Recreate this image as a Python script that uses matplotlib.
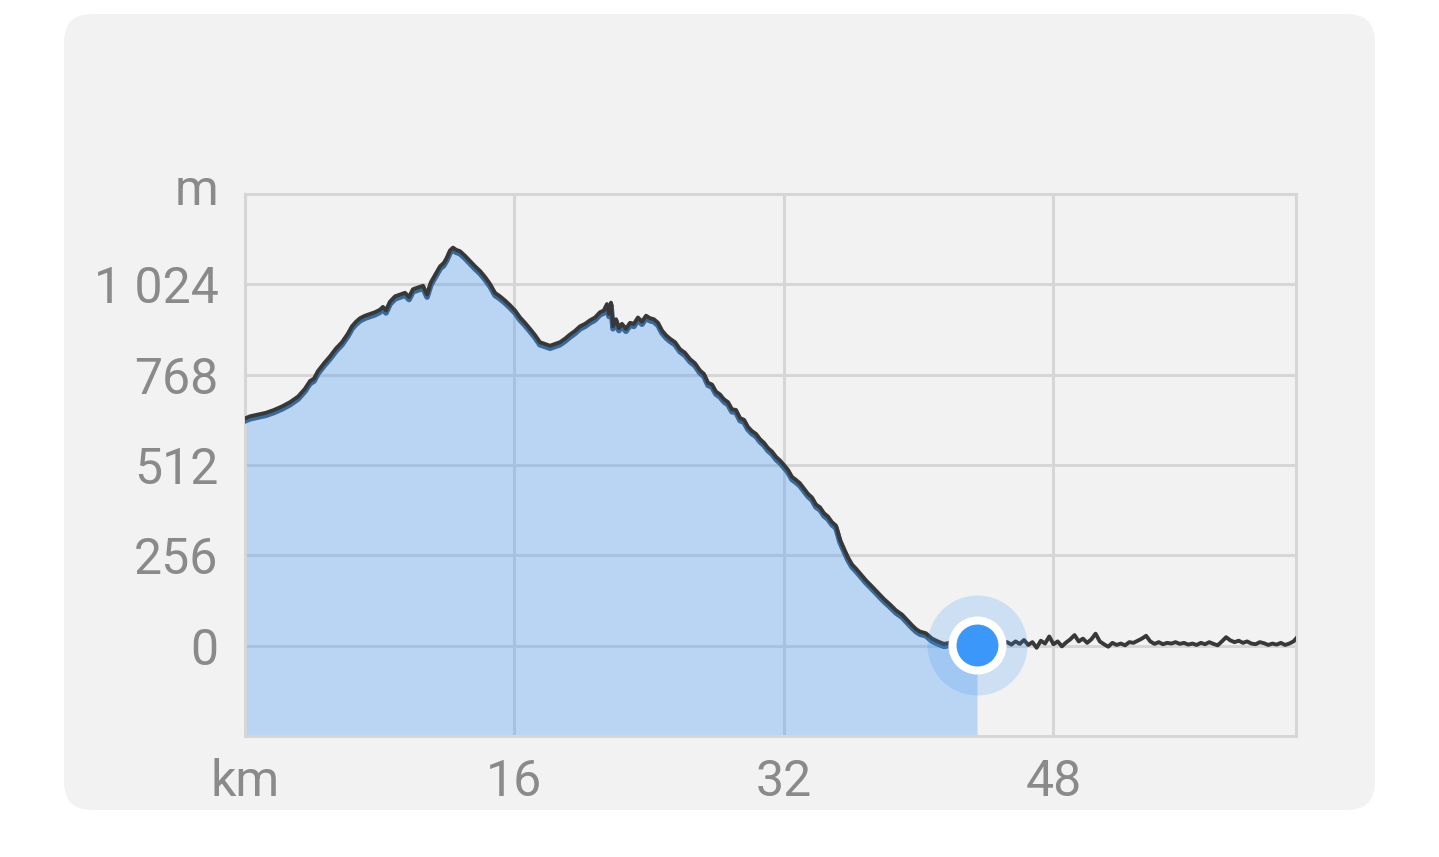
import numpy as np
import matplotlib
matplotlib.use("Agg")
import matplotlib.pyplot as plt
from matplotlib.patches import FancyBboxPatch
import matplotlib.transforms as mtransforms

plt.rcParams['font.family'] = ['Roboto', 'DejaVu Sans']

# ---- data -------------------------------------------------------------
dist_climb = [0, 0.30, 0.77, 1.25, 1.72, 2.20, 2.67, 3.15, 3.56, 3.86, 4.10, 4.33, 4.69,
              5.05, 5.40, 5.76, 6.12, 6.35, 6.59, 6.83, 7.12, 7.42, 7.72, 8.01, 8.19,
              8.37, 8.61, 8.91, 9.20, 9.50, 9.74, 9.97, 10.27, 10.57, 10.81, 11.04,
              11.34, 11.58, 11.81, 11.99, 12.17, 12.35, 12.53, 12.76, 13.06, 13.36,
              13.66, 13.95, 14.25, 14.55, 14.84, 15.14, 15.44, 15.73, 16.03, 16.33,
              16.62, 16.92, 17.22, 17.51, 17.81, 18.11, 18.40, 18.70, 19.00, 19.30,
              19.59, 19.89, 20.19, 20.48, 20.78, 21.08, 21.31, 21.49, 21.61, 21.73,
              21.85, 22.03, 22.20, 22.38, 22.62, 22.86, 23.09, 23.33, 23.57, 23.81,
              24.05, 24.28, 24.52, 24.76, 24.99, 25.23, 25.53, 25.83, 26.12, 26.42,
              26.72, 27.01, 27.25, 27.49, 27.73, 27.96, 28.20, 28.44, 28.68, 28.91,
              29.15, 29.39, 29.63, 29.86, 30.10, 30.34, 30.58, 30.81, 31.05, 31.29,
              31.53, 31.76, 32.00, 32.24, 32.48, 32.71, 32.95, 33.19, 33.43, 33.66,
              33.90, 34.14, 34.38, 34.61, 34.85, 35.09, 35.33, 35.56, 35.80, 36.04,
              36.28, 36.51, 36.87, 37.22, 37.58, 37.94, 38.29, 38.65, 39.01, 39.36,
              39.60, 39.84, 40.07, 40.43, 40.79, 41.14, 41.50, 41.86, 42.21, 42.57,
              42.92, 43.28]
elev_climb = [644, 650, 655, 660, 668, 678, 690, 706, 728, 750, 757, 778, 800,
              820, 842, 860, 885, 905, 918, 928, 935, 940, 945, 952, 960,
              950, 975, 990, 995, 1000, 988, 1010, 1015, 1020, 995, 1030,
              1055, 1075, 1085, 1100, 1120, 1128, 1122, 1118, 1105, 1090,
              1075, 1062, 1045, 1025, 1000, 990, 978, 965, 950, 930,
              915, 898, 880, 860, 855, 850, 855, 860, 870, 882,
              892, 905, 912, 922, 930, 945, 950, 968, 940, 972,
              905, 925, 900, 912, 898, 915, 912, 930, 918, 935,
              928, 925, 915, 893, 880, 870, 860, 840, 830, 812,
              800, 780, 770, 745, 740, 720, 712, 698, 690, 670,
              668, 645, 640, 620, 608, 600, 585, 575, 560, 550,
              535, 525, 512, 498, 478, 470, 460, 445, 430, 420,
              400, 392, 375, 366, 350, 340, 300, 275, 250, 230,
              218, 205, 185, 168, 150, 132, 117, 100, 88, 70,
              58, 47, 40, 35, 20, 12, 5, 8, 2, 4,
              5, 3]

dist_flat = [43.50, 43.75, 44.00, 44.25, 44.50, 44.75, 45.00, 45.25, 45.50, 45.75,
             46.00, 46.25, 46.50, 46.75, 47.00, 47.25, 47.50, 47.75, 48.00, 48.25,
             48.50, 48.75, 49.00, 49.25, 49.50, 49.75, 50.00, 50.25, 50.50, 50.75,
             51.00, 51.25, 51.50, 51.75, 52.00, 52.25, 52.50, 52.75, 53.00, 53.25,
             53.50, 53.75, 54.00, 54.25, 54.50, 54.75, 55.00, 55.25, 55.50, 55.75,
             56.00, 56.25, 56.50, 56.75, 57.00, 57.25, 57.50, 57.75, 58.00, 58.25,
             58.50, 58.75, 59.00, 59.25, 59.50, 59.75, 60.00, 60.25, 60.50, 60.75,
             61.00, 61.25, 61.50, 61.75, 62.00, 62.25, 62.40]
elev_flat = [3, 4, 6, 3, 5, 8, 4, 10, 3, 12,
             5, 16, 2, 10, -6, 14, 6, 26, 4, 12,
             -2, 9, 18, 30, 12, 20, 8, 18, 34, 12,
             4, -3, 8, 2, 6, 1, 10, 8, 14, 20,
             28, 12, 5, 10, 4, 8, 6, 10, 5, 8,
             3, 6, 2, 8, 4, 10, 5, 1, 12, 24,
             15, 10, 14, 8, 12, 6, 4, 10, 7, 2,
             6, 3, 8, 2, 6, 12, 20]

marker_km = 43.46
x_ticks = [0, 16, 32, 48]
x_labels = ["km", "16", "32", "48"]
y_ticks = [0, 256, 512, 768, 1024, 1280]
y_labels = ["0", "256", "512", "768", "1 024", "m"]
x_max = 62.4
y_min, y_max = -256, 1280

dist = np.array(dist_climb + dist_flat)
elev = np.array(elev_climb + elev_flat)

# ---- figure -----------------------------------------------------------
W, H = 1439, 857
fig = plt.figure(figsize=(W / 100, H / 100), dpi=100, facecolor='white')

bg = fig.add_axes([0, 0, 1, 1], zorder=0)
bg.set_xlim(0, W)
bg.set_ylim(H, 0)
bg.axis('off')
bg.add_patch(FancyBboxPatch((64 + 28, 14 + 28), 1311 - 56, 796 - 56,
                            boxstyle="round,pad=28",
                            facecolor='#f2f2f2', edgecolor='none'))

ax = fig.add_axes([245 / W, 1 - 736 / H, (1296 - 245) / W, (736 - 194) / H], zorder=1)
ax.patch.set_alpha(0)
ax.set_xlim(0, x_max)
ax.set_ylim(y_min, y_max)

grid_c = '#d6d6d6'
for s in ax.spines.values():
    s.set_color(grid_c)
    s.set_linewidth(2.2)
ax.set_xticks(x_ticks)
ax.set_xticklabels(x_labels)
ax.set_yticks(y_ticks)
ax.set_yticklabels(y_labels)
ax.grid(True, color=grid_c, linewidth=2.2, zorder=0)
ax.set_axisbelow(True)
ax.tick_params(length=0, labelsize=36, labelcolor='#8a8a8a')
ax.tick_params(axis='y', pad=19)
ax.tick_params(axis='x', pad=16)
for lbl in ax.get_yticklabels():
    if lbl.get_text() == 'm':
        lbl.set_y(lbl.get_position()[1])
        lbl.set_transform(lbl.get_transform() + mtransforms.ScaledTranslation(0, 6 / 72, fig.dpi_scale_trans))

# filled part up to the marker
marker_y = float(np.interp(marker_km, dist, elev))
m = dist < marker_km
xf = np.append(dist[m], marker_km)
yf = np.append(elev[m], marker_y)
ax.fill_between(xf, y_min, yf, color='#3a94f8', alpha=0.3, linewidth=0, zorder=2)

# blue under-stroke inside the filled part
off = mtransforms.offset_copy(ax.transData, fig=fig, x=0, y=-2.5, units='dots')
ax.plot(xf, yf, color='#3a6a9a', linewidth=4.0, transform=off, zorder=3,
        solid_joinstyle='round')
# profile line
ax.plot(dist, elev, color='#383838', linewidth=2.8, zorder=4, solid_joinstyle='round')

# position marker
ax.plot([marker_km], [marker_y], 'o', markersize=72, color='#3d96f5', alpha=0.2,
        markeredgewidth=0, zorder=5, clip_on=False)
ax.plot([marker_km], [marker_y], 'o', markersize=36, markerfacecolor='#3b97fa',
        markeredgecolor='white', markeredgewidth=5.8, zorder=6, clip_on=False)

fig.savefig('out.png', dpi=100, facecolor='white')
